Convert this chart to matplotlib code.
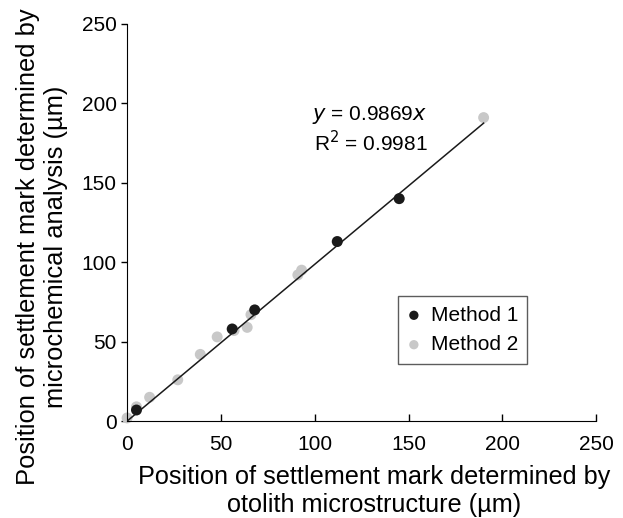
import numpy as np
import matplotlib.pyplot as plt

plt.rcParams['font.family'] = ['Liberation Sans', 'DejaVu Sans']

# Method 1 (black) and Method 2 (grey) points
m1_x = [5, 56, 68, 112, 145]
m1_y = [7, 58, 70, 113, 140]
m2_x = [0, 5, 12, 27, 39, 48, 57, 64, 66, 91, 93, 112, 145, 190]
m2_y = [2, 9, 15, 26, 42, 53, 57, 59, 67, 92, 95, 113, 140, 191]
slope = 0.9869
fit_x = [0, 190]

fig = plt.figure(figsize=(6.23, 5.18), dpi=100, facecolor="white")
ax = fig.add_axes([0.204, 0.187, 0.753, 0.767])

ax.scatter(m2_x, m2_y, s=62, color='#c8c8c8', edgecolors='none', zorder=2, label='Method 2', clip_on=False)
ax.scatter(m1_x, m1_y, s=62, color='#1a1a1a', edgecolors='none', zorder=3, label='Method 1', clip_on=False)
ax.plot(fit_x, [slope * v for v in fit_x], color='#1a1a1a', lw=1.1, zorder=4)

ax.set_xlim(0, 250)
ax.set_ylim(0, 250)
ax.set_xticks(np.arange(0, 251, 50))
ax.set_yticks(np.arange(0, 251, 50))
ax.spines['top'].set_visible(False)
ax.spines['right'].set_visible(False)
ax.tick_params(labelsize=15, width=1)
ax.tick_params(axis='x', direction='in', length=5, pad=10)
ax.tick_params(axis='y', direction='out', length=4.5, pad=3)

ax.set_xlabel('Position of settlement mark determined by\notolith microstructure (µm)', fontsize=18.2, linespacing=1.2, va='top')
ax.set_ylabel('Position of settlement mark determined by\nmicrochemical analysis (µm)', fontsize=18.4, linespacing=1.2)
ax.xaxis.set_label_coords(0.527, -0.111)
ax.yaxis.set_label_coords(-0.127, 0.44)

ax.text(98.5, 189.5, r'$y$ = 0.9869$x$', fontsize=15)
ax.text(99.5, 170, r'R$^2$ = 0.9981', fontsize=15)

h, l = ax.get_legend_handles_labels()
leg = ax.legend(h[::-1], l[::-1], loc='upper left', bbox_to_anchor=(144.5, 78.5), bbox_transform=ax.transData,
                fontsize=15, frameon=True, fancybox=False, edgecolor='#333333', handletextpad=0.5,
                handlelength=0.6, borderpad=0.45, labelspacing=0.5, markerscale=0.85, borderaxespad=0)
leg.get_frame().set_linewidth(1)

fig.savefig('out.png', dpi=100)
